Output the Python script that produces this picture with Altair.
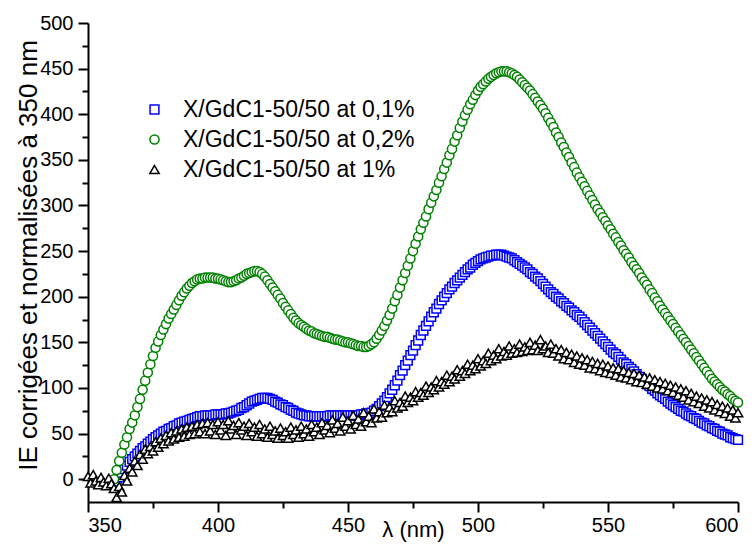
import altair as alt
import pandas as pd

series_names = ["X/GdC1-50/50 at 0,1%", "X/GdC1-50/50 at 0,2%", "X/GdC1-50/50 at 1%"]
series_colors = ["#0000ff", "#008000", "#000000"]
series_shapes = ["square", "circle", "triangle-up"]
series_sizes = [78, 88, 115]

x_major = [350, 400, 450, 500, 550, 600]
x_minor = [375, 425, 475, 525, 575]
y_major = [0, 50, 100, 150, 200, 250, 300, 350, 400, 450, 500]
y_minor = [25, 75, 125, 175, 225, 275, 325, 375, 425, 475]

# wavelength grids (1 nm step)
blue_start, green_start, black_start = 361, 360, 350

blue_values = [
    -3, 2, 7, 11, 15, 19, 22, 25, 28, 31,            # 361-370
    34, 36, 39, 41, 44, 46, 48, 50, 52, 53,          # 371-380
    55, 56, 58, 59, 61, 62, 63, 64, 65, 66,          # 381-390
    67, 68, 69, 69, 70, 70, 70, 70, 71, 71,          # 391-400
    71, 71, 72, 72, 73, 74, 75, 76, 78, 79,          # 401-410
    81, 83, 85, 86, 87, 88, 89, 89, 89, 88,          # 411-420
    87, 85, 84, 82, 81, 79, 78, 76, 75, 73,          # 421-430
    72, 71, 70, 70, 69, 69, 69, 69, 69, 69,          # 431-440
    69, 69, 70, 70, 70, 70, 70, 70, 70, 70,          # 441-450
    70, 70, 70, 70, 71, 71, 72, 72, 73, 75,          # 451-460
    77, 80, 83, 86, 90, 94, 98, 103, 108, 114,       # 461-470
    119, 125, 130, 136, 141, 147, 152, 158, 163, 168,  # 471-480
    173, 178, 183, 187, 192, 196, 200, 204, 208, 211,  # 481-490
    215, 218, 221, 224, 227, 230, 232, 235, 237, 239,  # 491-500
    241, 242, 243, 244, 245, 245, 246, 246, 246, 245,  # 501-510
    244, 243, 242, 240, 238, 236, 234, 232, 230, 227,  # 511-520
    225, 222, 220, 217, 214, 211, 208, 205, 203, 200,  # 521-530
    198, 195, 193, 190, 188, 185, 183, 180, 178, 175,  # 531-540
    172, 169, 166, 163, 160, 157, 154, 151, 148, 145,  # 541-550
    142, 139, 137, 134, 131, 128, 126, 123, 121, 118,  # 551-560
    115, 112, 110, 107, 104, 102, 99, 97, 94, 92,      # 561-570
    90, 88, 85, 83, 81, 79, 77, 75, 74, 72,            # 571-580
    70, 69, 67, 66, 64, 62, 61, 59, 58, 56,            # 581-590
    55, 53, 52, 50, 49, 48, 46, 45, 44, 43,            # 591-600
]

green_values = [
    0,                                                  # 360
    10, 20, 29, 38, 46, 55, 62, 70, 79, 88,             # 361-370
    98, 108, 117, 126, 135, 144, 151, 158, 164, 170,    # 371-380
    176, 181, 186, 191, 196, 201, 205, 209, 212, 215,   # 381-390
    217, 219, 220, 220, 221, 221, 221, 221, 220, 220,   # 391-400
    219, 218, 217, 216, 216, 217, 218, 220, 221, 223,   # 401-410
    225, 226, 227, 228, 228, 227, 225, 222, 218, 214,   # 411-420
    210, 206, 202, 198, 193, 189, 185, 181, 177, 174,   # 421-430
    171, 169, 167, 165, 163, 162, 160, 159, 158, 157,   # 431-440
    156, 156, 155, 154, 153, 153, 152, 151, 150, 150,   # 441-450
    149, 148, 147, 146, 146, 145, 145, 146, 148, 150,   # 451-460
    154, 158, 163, 168, 174, 180, 187, 195, 202, 210,   # 461-470
    218, 226, 234, 242, 250, 258, 266, 274, 281, 288,   # 471-480
    296, 303, 310, 317, 325, 332, 340, 347, 355, 362,   # 481-490
    370, 377, 385, 392, 399, 405, 411, 416, 421, 426,   # 491-500
    430, 433, 436, 439, 441, 443, 445, 446, 447, 447,   # 501-510
    447, 446, 445, 443, 441, 438, 435, 432, 429, 426,   # 511-520
    422, 418, 414, 410, 406, 401, 396, 391, 386, 380,   # 521-530
    375, 369, 364, 358, 353, 347, 342, 336, 331, 326,   # 531-540
    321, 316, 311, 306, 301, 296, 292, 287, 283, 278,   # 541-550
    274, 269, 265, 260, 256, 251, 247, 243, 238, 234,   # 551-560
    230, 226, 221, 217, 213, 208, 204, 199, 195, 190,   # 561-570
    186, 182, 178, 174, 170, 166, 162, 158, 154, 150,   # 571-580
    146, 142, 138, 134, 130, 126, 122, 118, 114, 110,   # 581-590
    107, 104, 101, 98, 96, 93, 91, 88, 86, 84,          # 591-600
]

black_values = [
    3,                                                  # 350
    -4, 5, -2, -6, 2, -3, -7, 1, -5, -10,               # 351-360
    -20, -8, -14, 4, -2, 12, 8, 20, 15, 27,             # 361-370
    22, 33, 28, 36, 31, 41, 35, 45, 39, 48,             # 371-380
    42, 51, 44, 53, 46, 55, 47, 57, 49, 58,             # 381-390
    50, 60, 52, 61, 50, 62, 53, 60, 49, 63,             # 391-400
    54, 60, 48, 64, 55, 59, 49, 62, 54, 58,             # 401-410
    48, 61, 52, 57, 47, 60, 50, 55, 46, 58,             # 411-420
    49, 53, 45, 56, 48, 52, 45, 57, 49, 54,             # 421-430
    46, 58, 50, 55, 47, 60, 52, 57, 49, 62,             # 431-440
    54, 59, 51, 65, 56, 61, 53, 68, 58, 64,             # 441-450
    55, 70, 60, 66, 58, 73, 63, 69, 62, 77,             # 451-460
    67, 74, 68, 81, 73, 79, 74, 86, 78, 84,             # 461-470
    80, 91, 84, 90, 86, 96, 90, 95, 92, 102,            # 471-480
    95, 101, 98, 108, 101, 107, 104, 114, 107, 113,     # 481-490
    110, 120, 113, 119, 116, 126, 119, 125, 121, 132,   # 491-500
    124, 130, 127, 138, 130, 136, 132, 143, 135, 140,   # 501-510
    136, 146, 138, 143, 139, 148, 140, 145, 141, 150,   # 511-520
    142, 147, 141, 153, 143, 146, 139, 148, 138, 143,   # 521-530
    135, 142, 132, 139, 131, 137, 128, 135, 126, 133,   # 531-540
    125, 131, 122, 129, 121, 127, 119, 126, 117, 124,   # 541-550
    116, 122, 114, 121, 112, 119, 111, 117, 109, 116,   # 551-560
    107, 114, 106, 112, 104, 111, 102, 109, 100, 107,   # 561-570
    99, 105, 97, 103, 95, 101, 92, 99, 90, 97,          # 571-580
    87, 94, 85, 91, 83, 89, 80, 87, 78, 85,             # 581-590
    76, 82, 74, 80, 72, 78, 69, 76, 67, 73,             # 591-600
]

rows = []
for k, (name, start, vals) in enumerate(zip(series_names,
                                            [blue_start, green_start, black_start],
                                            [blue_values, green_values, black_values])):
    for i, v in enumerate(vals):
        rows.append({"wl": start + i, "ie": v, "series": name, "k": k})
df = pd.DataFrame(rows)

FONT = "Liberation Sans"
x_scale = alt.Scale(domain=[350, 600], nice=False, zero=False)
y_scale = alt.Scale(domain=[-25, 500], nice=False, zero=False)

x_axis = alt.Axis(
    values=x_major, tickSize=10, labelFontSize=20, labelPadding=3,
    title="λ (nm)", titleFontSize=22, titleFontWeight="normal",
    titleY=34, titleBaseline="alphabetic", grid=False, orient="bottom",
)
y_axis = alt.Axis(
    values=y_major, tickSize=10, labelFontSize=20, labelPadding=5,
    title="IE corrigées et normalisées à 350 nm", titleFontSize=26,
    titleFontWeight="normal", titleX=-60, titleY=232, titleBaseline="middle",
    titleAlign="center", titleAngle=270, grid=False, orient="left",
)
x_axis_minor = alt.Axis(values=x_minor, tickSize=6, labels=False, title=None,
                        domain=False, grid=False, orient="bottom")
y_axis_minor = alt.Axis(values=y_minor, tickSize=6, labels=False, title=None,
                        domain=False, grid=False, orient="left")

points = alt.Chart(df).mark_point(
    filled=False, fill="white", strokeWidth=1.5, opacity=1
).encode(
    x=alt.X("wl:Q", scale=x_scale, axis=x_axis),
    y=alt.Y("ie:Q", scale=y_scale, axis=y_axis),
    color=alt.Color("series:N", scale=alt.Scale(domain=series_names, range=series_colors),
                    legend=alt.Legend(title=None, orient="none", legendX=55, legendY=75,
                                      labelLimit=0)),
    shape=alt.Shape("series:N", scale=alt.Scale(domain=series_names, range=series_shapes)),
    size=alt.Size("series:N", scale=alt.Scale(domain=series_names, range=series_sizes), legend=None),
    order=alt.Order("k:Q"),
)

minor = alt.Chart(df).mark_point(opacity=0).encode(
    x=alt.X("wl:Q", scale=x_scale, axis=x_axis_minor),
    y=alt.Y("ie:Q", scale=y_scale, axis=y_axis_minor),
)

chart = alt.layer(minor, points).resolve_axis(
    x="independent", y="independent"
).properties(
    width=650,
    height=479,
    autosize="none",
    padding={"left": 80, "top": 15, "right": 10, "bottom": 40},
).configure_view(
    stroke=None
).configure_axis(
    domainColor="black",
    domainWidth=2,
    tickColor="black",
    tickWidth=2,
    labelColor="black",
    titleColor="black",
    labelFont=FONT,
    titleFont=FONT,
).configure_legend(
    labelFont=FONT,
    labelFontSize=23,
    labelColor="black",
    labelLimit=0,
    symbolSize=55,
    symbolStrokeWidth=1.5,
    rowPadding=6,
    labelOffset=17,
    padding=0,
)

chart.save("out.html", embed_options={"renderer": "svg", "actions": False})
